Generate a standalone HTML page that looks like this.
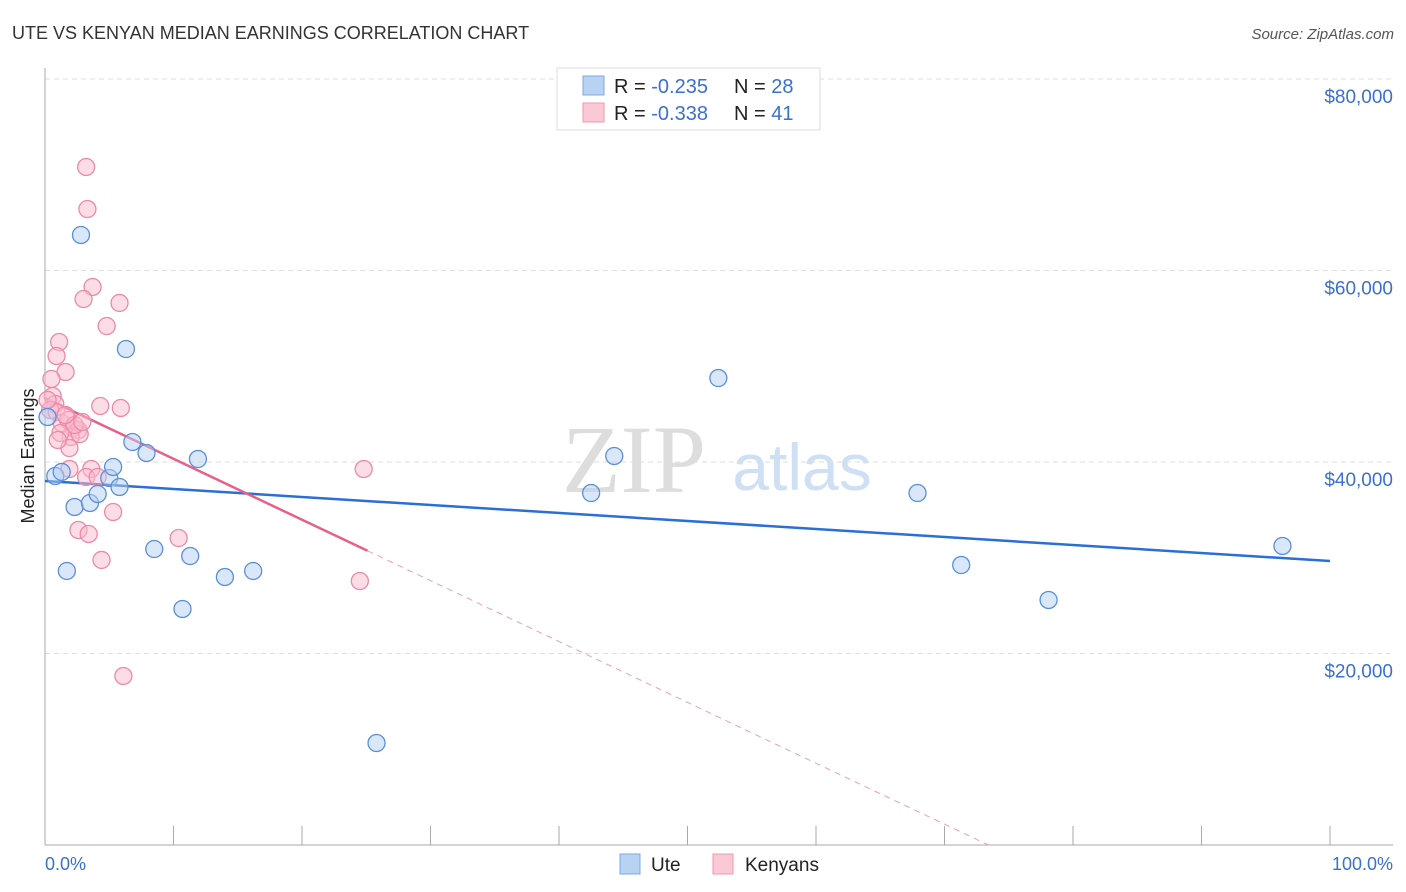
<!DOCTYPE html>
<html><head><meta charset="utf-8"><style>
body{margin:0;background:#fff;}
svg{display:block;font-family:"Liberation Sans",sans-serif;}
</style></head><body>
<svg id="chart" width="1406" height="892">
<text x="12" y="39" font-size="18" fill="#333">UTE VS KENYAN MEDIAN EARNINGS CORRELATION CHART</text>
<text x="1394" y="39" font-size="15" fill="#555" font-style="italic" text-anchor="end">Source: ZipAtlas.com</text>
<g><text x="634" y="492" font-size="96" fill="#ddd" font-family="Liberation Serif,serif" text-anchor="middle">ZIP</text><text x="802" y="490" font-size="66" fill="#cfe0f5" text-anchor="middle">atlas</text></g>
<g id="grid"></g>
<g id="axes"></g>
<g id="trends"></g>
<g id="points"></g>
<text transform="translate(34,456) rotate(-90)" font-size="18" fill="#222" text-anchor="middle">Median Earnings</text>
<text x="45" y="870" font-size="18" fill="#3a70d0">0.0%</text>
<text x="1393" y="870" font-size="18" fill="#3a70d0" text-anchor="end">100.0%</text>
<g>
<rect x="557" y="68" width="263" height="62" fill="#fff" stroke="#ddd"/>
<rect x="583" y="76" width="21" height="19" fill="#b8d2f4" stroke="#7ea8e6"/>
<text x="614" y="93" font-size="20" fill="#222">R = <tspan fill="#3a70d0">-0.235</tspan><tspan x="734">N = </tspan><tspan fill="#3a70d0">28</tspan></text>
<rect x="583" y="103" width="21" height="19" fill="#fbc8d6" stroke="#f097b2"/>
<text x="614" y="120" font-size="20" fill="#222">R = <tspan fill="#3a70d0">-0.338</tspan><tspan x="734">N = </tspan><tspan fill="#3a70d0"> 41</tspan></text>
</g>
<g>
<rect x="620" y="854" width="20" height="20" fill="#b8d2f4" stroke="#7ea8e6"/>
<text x="651" y="871" font-size="19" fill="#222">Ute</text>
<rect x="713" y="854" width="20" height="20" fill="#fbc8d6" stroke="#f097b2"/>
<text x="745" y="871" font-size="19" fill="#222">Kenyans</text>
</g>
</svg>
<script>
const yTicks=[20000,40000,60000,80000];
const yTickLabels=["$20,000","$40,000","$60,000","$80,000"];
const xTicks=[0,10,20,30,40,50,60,70,80,90,100];
const uteX=[0.2,0.8,1.3,1.7,2.3,2.8,3.5,4.1,5.0,5.3,5.8,6.3,6.8,7.9,8.5,10.7,11.3,11.9,14.0,16.2,25.8,42.5,44.3,52.4,67.9,71.3,78.1,96.3];
const uteY=[44700,38540,38960,28620,35300,63710,35720,36660,38330,39480,37390,51800,42090,40940,30910,24650,30180,40310,27990,28620,10650,36760,40630,48770,36760,29240,25590,31230];
const kenX=[3.2,3.3,3.7,3.0,5.8,4.8,1.1,0.9,1.6,0.5,0.6,0.8,0.4,0.9,1.3,1.8,2.2,2.6,2.0,2.7,1.2,1.9,4.3,5.9,1.9,3.6,3.2,4.1,2.6,3.4,5.3,4.4,10.4,24.8,24.5,6.1,0.2,2.3,1.6,1.0,2.9];
const kenY=[70810,66420,58280,57020,56610,54200,52530,51070,49400,48670,46890,46060,45430,45220,44070,44390,43550,43340,42610,42920,43030,41460,45850,45640,39270,39270,38430,38430,32900,32480,34780,29770,32060,39270,27570,17650,46480,43860,44910,42300,44180];
const uteTrend=[38020,29660];
const kenTrend=[46690,-16900];
const kenSolidEnd=25.1;
const X=v=>45+v/100*1285, Y=v=>845-v/20000*191.5;
const NS="http://www.w3.org/2000/svg";
function mk(t,p,a){const e=document.createElementNS(NS,t);for(const k in a)e.setAttribute(k,a[k]);document.getElementById(p).appendChild(e);return e;}
yTicks.forEach((t,i)=>{
 const l=mk('line','grid',{x1:45,x2:1393,y1:Y(t),y2:Y(t),stroke:'#ddd','stroke-dasharray':'5,4'});
 
 
 const tx=mk('text','grid',{x:1393,y:Y(t)+24,'font-size':19,fill:'#3a70d0','text-anchor':'end'});
 tx.textContent=yTickLabels[i];
 
 
});
const ax=mk('line','axes',{x1:45,x2:45,y1:68,y2:845,stroke:'#aaa'});


const bx=mk('line','axes',{x1:45,x2:1393,y1:845,y2:845,stroke:'#aaa'});


xTicks.forEach(t=>{const l=mk('line','axes',{x1:X(t),x2:X(t),y1:826,y2:845,stroke:'#aaa'});
 
 });
function dots(xs,ys,fill,stroke,name){xs.forEach((x,i)=>{const c=mk('circle','points',{cx:X(x),cy:Y(ys[i]),r:8.5,fill:fill,'fill-opacity':0.5,stroke:stroke,'stroke-width':1.3});
 
 });}
dots(kenX,kenY,'#f9bccd','#ec8aa8','kenyan-point');
dots(uteX,uteY,'#b4cff3','#5a8fdc','ute-point');
const ut=mk('line','trends',{x1:X(0),y1:Y(uteTrend[0]),x2:X(100),y2:Y(uteTrend[1]),stroke:'#2a6fd6','stroke-width':2.5});


const kv=p=>kenTrend[0]+(kenTrend[1]-kenTrend[0])*p/100;
const ks=mk('line','trends',{x1:X(0),y1:Y(kv(0)),x2:X(kenSolidEnd),y2:Y(kv(kenSolidEnd)),stroke:'#e8608a','stroke-width':2.5});


const zeroP=kenTrend[0]/(kenTrend[0]-kenTrend[1])*100;
const kd=mk('line','trends',{x1:X(kenSolidEnd),y1:Y(kv(kenSolidEnd)),x2:X(zeroP),y2:Y(0),stroke:'#e8a0b8','stroke-width':1,'stroke-dasharray':'6,5'});


</script>
</body></html>
